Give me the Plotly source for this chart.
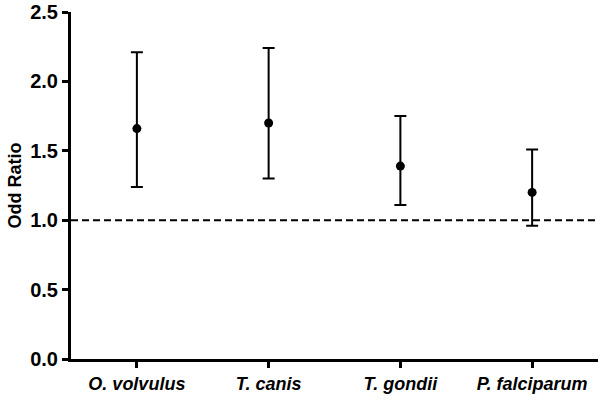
import plotly.graph_objects as go

categories = ["O. volvulus", "T. canis", "T. gondii", "P. falciparum"]
odds_ratio = [1.66, 1.70, 1.39, 1.20]
ci_upper = [2.21, 2.24, 1.75, 1.51]
ci_lower = [1.24, 1.30, 1.11, 0.96]
y_ticks = [0.0, 0.5, 1.0, 1.5, 2.0, 2.5]
y_tick_labels = ["0.0", "0.5", "1.0", "1.5", "2.0", "2.5"]

xs = list(range(len(categories)))
err_plus = [u - m for u, m in zip(ci_upper, odds_ratio)]
err_minus = [m - l for m, l in zip(odds_ratio, ci_lower)]

fig = go.Figure()
fig.add_trace(go.Scatter(
    x=xs, y=odds_ratio, mode="markers",
    marker=dict(color="black", size=9),
    error_y=dict(type="data", symmetric=False, array=err_plus, arrayminus=err_minus,
                 color="black", thickness=2, width=6),
    showlegend=False,
))
fig.add_shape(type="line", xref="x", yref="y", x0=-0.5, x1=3.5, y0=1, y1=1,
              line=dict(color="black", width=2, dash="7px,4px"), layer="below")

fig.update_layout(
    width=605, height=410,
    margin=dict(l=71, r=7, t=12, b=51),
    paper_bgcolor="white", plot_bgcolor="white",
    font=dict(family="Liberation Sans, Arial", color="black"),
)
fig.update_xaxes(
    range=[-0.5, 3.5], tickvals=xs,
    ticktext=[f"<b><i>{c}</i></b>" for c in categories],
    showline=True, linecolor="black", linewidth=3,
    ticks="outside", ticklen=6, tickwidth=3, tickcolor="black",
    showgrid=False, zeroline=False, automargin=False,
    tickfont=dict(size=18, family="Liberation Sans, Arial"),
)
fig.update_yaxes(
    range=[0, 2.5], tickvals=y_ticks,
    ticktext=[f"<b>{t}</b>" for t in y_tick_labels],
    showline=True, linecolor="black", linewidth=3,
    ticks="outside", ticklen=6, tickwidth=3, tickcolor="black",
    showgrid=False, zeroline=False, automargin=False,
    tickfont=dict(size=20, family="Liberation Sans, Arial"),
    title=dict(text="<b>Odd Ratio</b>", font=dict(size=18), standoff=4),
)

fig.write_html("out.html", config={"displayModeBar": False},
               post_script="document.body.style.margin='0';")
